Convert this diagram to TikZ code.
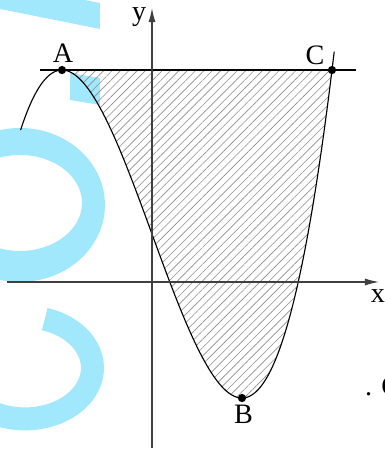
\documentclass[tikz,border=0pt]{standalone}
\usepackage{fontspec}
\setmainfont{Liberation Serif}
\usetikzlibrary{arrows.meta}
\usetikzlibrary{patterns.meta}
\definecolor{wm}{rgb}{0.63, 0.91, 0.99}
\definecolor{hatch}{rgb}{0.55, 0.55, 0.55}
\definecolor{ax}{rgb}{0.25, 0.25, 0.25}
\tikzstyle{vertex}=[circle, draw=black, fill=black, minimum size=5pt, inner sep=0pt]
\tikzstyle{lbl}=[font=\fontsize{20}{24}\selectfont, inner sep=0pt]
\tikzset{
  axisarrow/.style = {-{Latex[length=10pt, width=5pt]}, ax, line width=0.8pt},
  cubic/.style = {line width=0.8pt},
  region/.style = {pattern={Lines[angle=45, distance=4.2pt, line width=0.45pt]}, pattern color=hatch},
  wmark/.style = {fill=wm, draw=none},
}

\begin{document}
\begin{tikzpicture}[x=2.25cm, y=2.05cm, declare function={f(\x)=\x*\x*\x-3*\x+0.585;}]
	\pgfsetlinewidth{0.8pt}
	\useasboundingbox (-1.6889,-2.0488) rectangle (2.5778,3.4390);

	% cyan marks behind the figure (pixel units)
	\begin{scope}[shift={(-1.6889,3.4390)}, x=0.025cm, y=-0.025cm]
		\clip (0,0) rectangle (384,450);
		\fill[wmark] (0,0) -- (85,0) -- (100,3) -- (100,29) -- (0,9) -- cycle;
		\fill[wmark] (70,73) -- (100,78) -- (100,105) -- (70,100) -- cycle;
		\fill[wmark, even odd rule] (20,205) ellipse[x radius=85, y radius=77] (20,203) ellipse[x radius=62, y radius=48];
		\draw[wm, line width=0.575cm] (25,368) ++(-73:67.5 and 51) arc[start angle=-73, end angle=125, x radius=67.5, y radius=51];
	\end{scope}

	\fill[region] plot[domain=-1:2, samples=80] (\x,{f(\x)}) -- cycle;
	\draw[cubic] plot[domain=-1.46:2.025, samples=120, smooth] (\x,{f(\x)});

	\coordinate (l1) at (-1.244,2.585);
	\coordinate (l2) at (2.267,2.585);
	\draw (l1) -- (l2);

	\coordinate (xl) at (-1.611,0);
	\coordinate (xr) at (2.522,0);
	\coordinate (yb) at (0,-2.024);
	\coordinate (yt) at (0,3.341);
	\draw[axisarrow] (xl) -- (xr);
	\draw[axisarrow] (yb) -- (yt);

	\node[vertex] (A) at (-1,2.585) {};
	\node[vertex] (B) at (1,-1.415) {};
	\node[vertex] (C) at (2,2.585) {};

	\node[lbl] (la) at (-0.989,2.787) {A};
	\node[lbl] (lb) at (1.017,-1.61) {B};
	\node[lbl] (lc) at (1.811,2.768) {C};
	\node[lbl] (lx) at (2.511,-0.171) {x};
	\node[lbl] (ly) at (-0.144,3.226) {y};
	\node[lbl, anchor=base west] (cut) at (2.361,-1.39) {. C};

\end{tikzpicture}
\end{document}
